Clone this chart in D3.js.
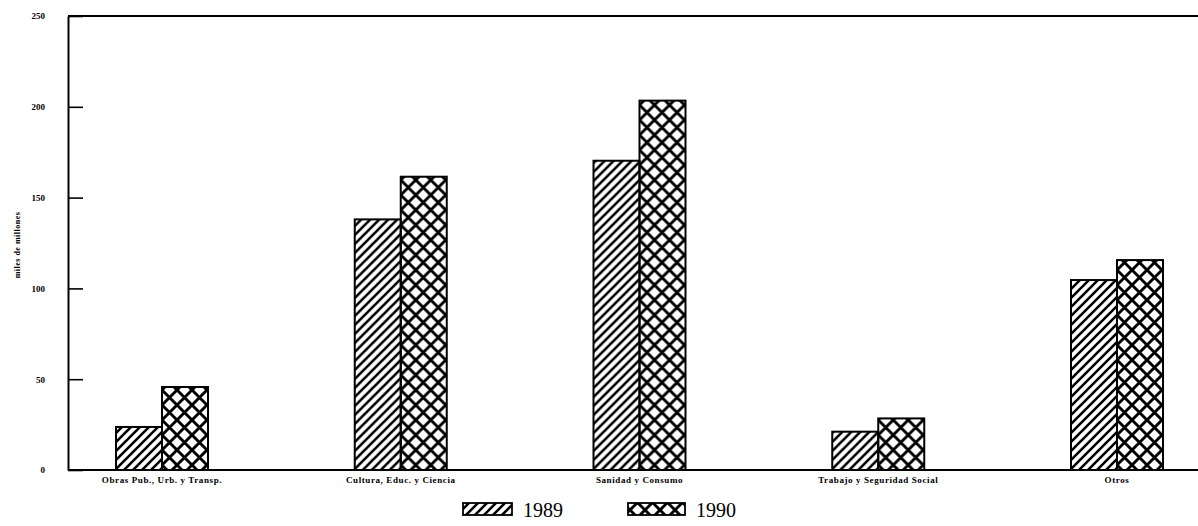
<!DOCTYPE html>
<html>
<head>
<meta charset="utf-8">
<script src="https://cdn.jsdelivr.net/npm/d3@7/dist/d3.min.js"></script>
<style>
  body { margin: 0; background: #fff; }
  svg { display: block; }
  .tick text { font-family: 'Liberation Serif', serif; font-weight: bold; }
</style>
</head>
<body>
<svg id="chart" width="1198" height="526"></svg>
<script>
// data (miles de millones)
const categories = ['Obras Pub., Urb. y Transp.', 'Cultura, Educ. y Ciencia', 'Sanidad y Consumo', 'Trabajo y Seguridad Social', 'Otros']
const years = ['1989', '1990']
const values1989 = [23.7, 138, 170.3, 21.1, 104.6]
const values1990 = [45.7, 161.5, 203.4, 28.4, 115.6]
const yTicks = [0, 50, 100, 150, 200, 250]

const svg = d3.select('#chart')
const plotLeft = 68
const plotRight = 1198
const plotTop = 16
const plotBottom = 470

const x = d3.scalePoint().domain(categories).range([162, 1117])
const xInner = d3.scaleBand().domain(years).range([-46, 46])
const y = d3.scaleLinear().domain([0, 250]).range([plotBottom, plotTop])

// patterns
const defs = svg.append('defs')
defs.append('pattern')
  .attr('id', 'hatch')
  .attr('patternUnits', 'userSpaceOnUse')
  .attr('width', 9)
  .attr('height', 9)
  .append('path')
  .attr('d', 'M-2,2 l4,-4 M0,9 l9,-9 M7,11 l4,-4')
  .attr('stroke', '#000')
  .attr('stroke-width', 2.6)

const cross = defs.append('pattern')
  .attr('id', 'cross')
  .attr('patternUnits', 'userSpaceOnUse')
  .attr('width', 15)
  .attr('height', 15)
cross.append('path')
  .attr('d', 'M-3,3 l6,-6 M0,15 l15,-15 M12,18 l6,-6 M-3,12 l6,6 M0,0 l15,15 M12,-3 l6,6')
  .attr('stroke', '#000')
  .attr('stroke-width', 2.9)

const fills = { 1989: 'url(#hatch)', 1990: 'url(#cross)' }

// bars
const rows = categories.map((c, i) => ({ cat: c, v: { 1989: values1989[i], 1990: values1990[i] } }))
svg.append('g')
  .selectAll('g')
  .data(rows)
  .join('g')
  .attr('transform', d => `translate(${x(d.cat)},0)`)
  .selectAll('rect')
  .data(d => years.map(yr => ({ yr, v: d.v[yr] })))
  .join('rect')
  .attr('x', d => xInner(d.yr))
  .attr('width', xInner.bandwidth())
  .attr('y', d => y(d.v))
  .attr('height', d => plotBottom - y(d.v))
  .attr('fill', d => fills[d.yr])
  .attr('stroke', '#000')
  .attr('stroke-width', 2)

// frame lines
svg.append('line')
  .attr('x1', plotLeft).attr('x2', plotRight)
  .attr('y1', plotTop).attr('y2', plotTop)
  .attr('stroke', '#000').attr('stroke-width', 1.8)
svg.append('line')
  .attr('x1', plotLeft).attr('x2', plotRight)
  .attr('y1', plotBottom).attr('y2', plotBottom)
  .attr('stroke', '#000').attr('stroke-width', 2)

// y axis
const yAxis = svg.append('g')
  .attr('transform', `translate(${plotLeft},0)`)
  .call(d3.axisLeft(y).tickValues(yTicks).tickSizeInner(-15).tickSizeOuter(0).tickPadding(23))
yAxis.select('.domain').attr('stroke-width', 2)
yAxis.selectAll('.tick line').attr('stroke-width', 1.6)
yAxis.selectAll('.tick text').attr('font-size', 9)

svg.append('text')
  .attr('transform', 'translate(20,245) rotate(-90)')
  .attr('text-anchor', 'middle')
  .attr('font-family', 'Liberation Serif, serif')
  .attr('font-weight', 'bold')
  .attr('font-size', 8)
  .attr('letter-spacing', 0.5)
  .text('miles de millones')

// x labels
svg.append('g')
  .selectAll('text')
  .data(categories)
  .join('text')
  .attr('x', d => x(d))
  .attr('y', 483)
  .attr('text-anchor', 'middle')
  .attr('font-family', 'Liberation Serif, serif')
  .attr('font-weight', 'bold')
  .attr('font-size', 9)
  .attr('letter-spacing', 0.6)
  .text(d => d)

// legend
const legend = [{ yr: '1989', x: 463, w: 49 }, { yr: '1990', x: 628, w: 57 }]
const lg = svg.append('g').selectAll('g').data(legend).join('g')
lg.append('rect')
  .attr('x', d => d.x)
  .attr('y', 503)
  .attr('width', d => d.w)
  .attr('height', 12)
  .attr('fill', d => fills[d.yr])
  .attr('stroke', '#000')
  .attr('stroke-width', 1.8)
lg.append('text')
  .attr('x', d => d.x + d.w + 11)
  .attr('y', 517)
  .attr('font-family', 'Liberation Serif, serif')
  .attr('font-size', 20)
  .text(d => d.yr)
</script>
</body>
</html>
